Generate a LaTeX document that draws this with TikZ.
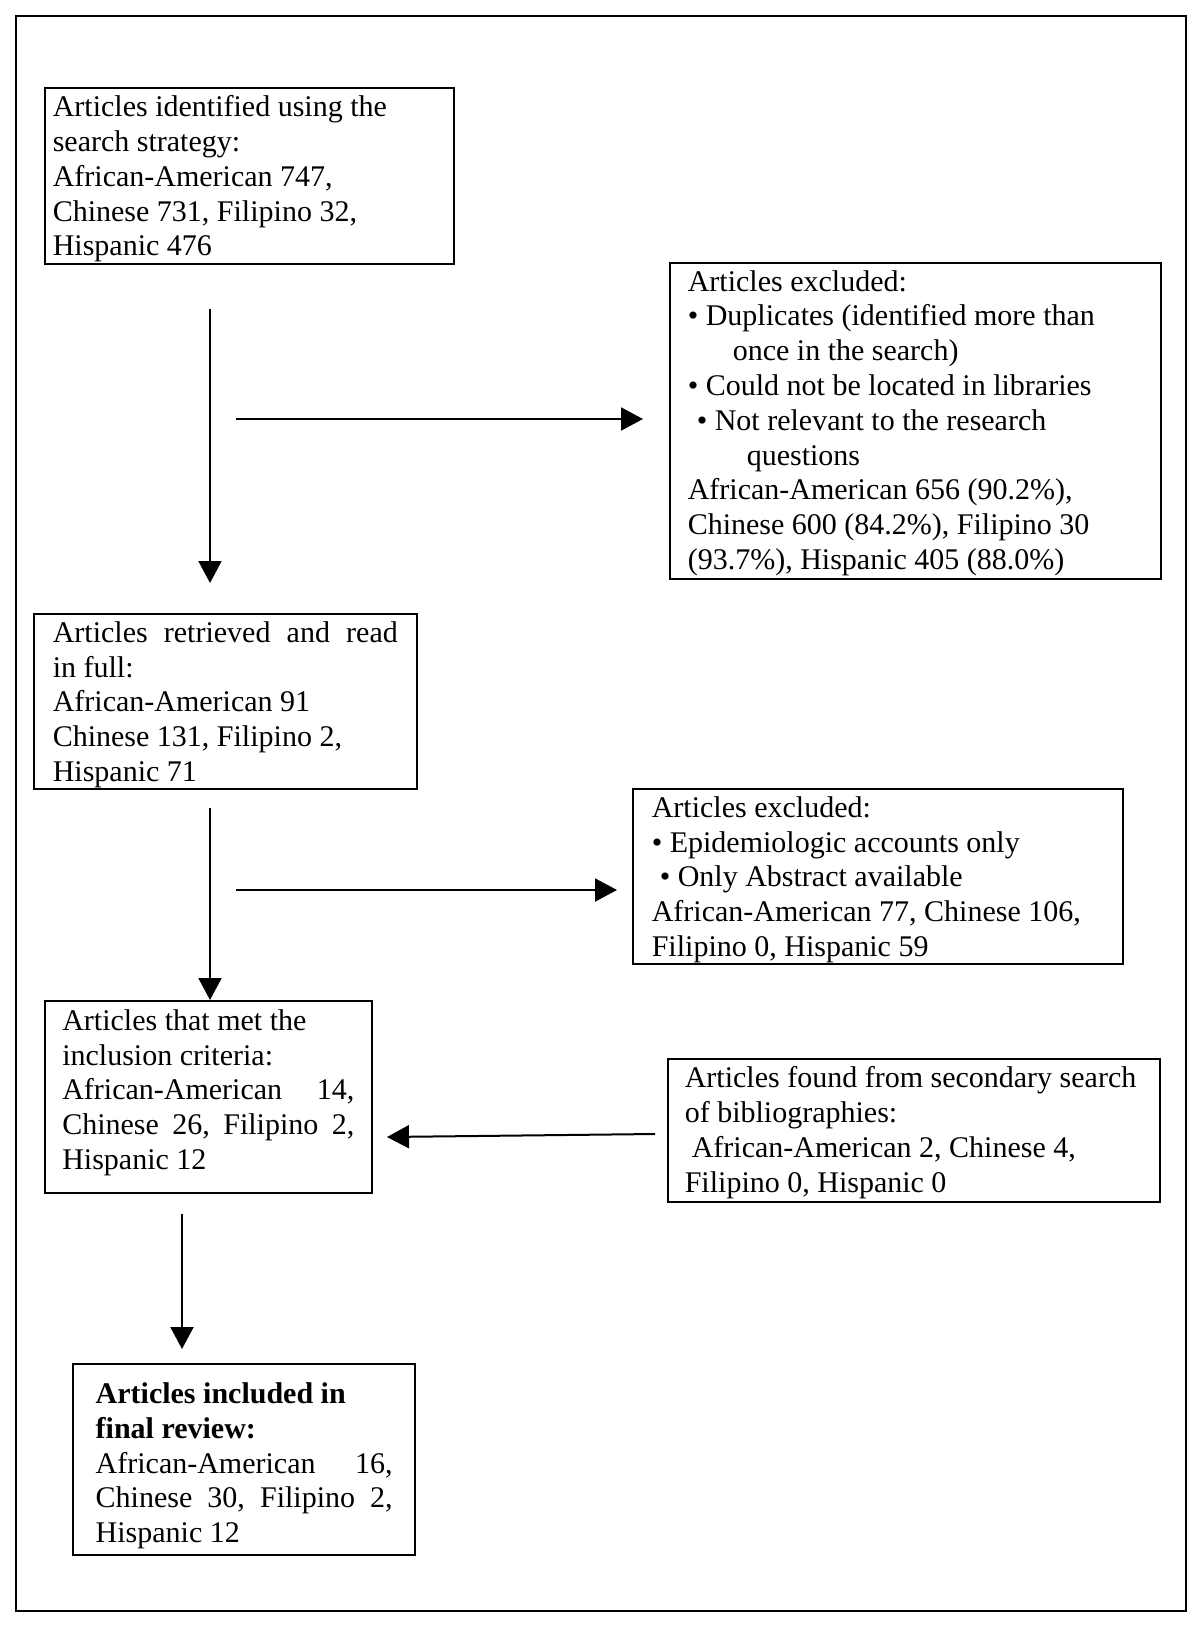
\documentclass[tikz,border=0pt]{standalone}
\usepackage{fontspec}
\setmainfont{Liberation Serif}
\usepackage{tikz}
\usetikzlibrary{arrows.meta}
\tikzstyle{box} = [draw, line width=0.8pt, anchor=north west, align=flush left, inner ysep=0pt, font={\fontsize{15pt}{17.4pt}\selectfont}]
\tikzstyle{finalbox} = [box, line width=1.2pt]
\tikzstyle{arrow} = [draw, line width=1pt, -{Triangle[length=11pt, width=11.5pt]}]
\tikzstyle{frame} = [draw, line width=1pt]
% first line strut, pushes the text a bit down in its box
\newcommand{\topgap}[1]{\rule{0pt}{#1}}

\begin{document}
\begin{tikzpicture}[x=0.5pt, y=-0.5pt]
				\useasboundingbox (0,0) rectangle (1200,1627);
				\path [frame] (16,16) rectangle (1186,1611);

				\node [box, text width=196.5pt, inner xsep=4pt, minimum height=88pt] (search) at (44,87) {\topgap{13.75pt}Articles identified using the\\search strategy:\\African-American 747,\\Chinese 731, Filipino 32,\\Hispanic 476};
				\node [box, text width=227.5pt, inner xsep=9pt, minimum height=158pt] (excl1) at (669,262) {\topgap{12.75pt}Articles excluded:\\\textbullet{} Duplicates (identified more than\\\hspace*{22.5pt}once in the search)\\\textbullet{} Could not be located in libraries\\\hspace*{4.5pt}\textbullet{} Not relevant to the research\\\hspace*{29.5pt}questions\\African-American 656 (90.2\%),\\Chinese 600 (84.2\%), Filipino 30\\(93.7\%), Hispanic 405 (88.0\%)};
				\node [box, text width=172.5pt, inner xsep=9.5pt, minimum height=87.5pt] (full) at (33,613) {\topgap{13.75pt}\makebox[172.5pt][s]{Articles\hfill retrieved\hfill and\hfill read}\\in full:\\African-American 91\\Chinese 131, Filipino 2,\\Hispanic 71};
				\node [box, text width=226pt, inner xsep=9.5pt, minimum height=87.5pt] (excl2) at (632,788) {\topgap{13.75pt}Articles excluded:\\\textbullet{} Epidemiologic accounts only\\\hspace*{4pt}\textbullet{} Only Abstract available\\African-American 77, Chinese 106,\\Filipino 0, Hispanic 59};
				\node [box, text width=146pt, inner xsep=8.75pt, minimum height=96pt] (incl) at (44,1000) {Articles that met the\\inclusion criteria:\\\makebox[146pt][s]{African-American\hfill 14,}\\\makebox[146pt][s]{Chinese\hfill 26,\hfill Filipino\hfill 2,}\\Hispanic 12\rule[-7.3pt]{0pt}{7.3pt}};
				\node [box, text width=229pt, inner xsep=8.5pt, minimum height=71.5pt] (second) at (667,1058) {\topgap{12.75pt}Articles found from secondary search\\of bibliographies:\\\hspace*{3.5pt}African-American 2, Chinese 4,\\Filipino 0, Hispanic 0};
				\node [finalbox, text width=148.5pt, inner xsep=11.25pt, minimum height=95.5pt] (final) at (72,1363) {\topgap{16.6pt}\textbf{Articles included in}\\\textbf{final review:}\\\makebox[148.5pt][s]{African-American\hfill 16,}\\\makebox[148.5pt][s]{Chinese\hfill 30,\hfill Filipino\hfill 2,}\\Hispanic 12};

				\coordinate (d1a) at (210,309);
				\coordinate (d1b) at (210,583);
				\coordinate (r1a) at (236,419);
				\coordinate (r1b) at (643,419);
				\coordinate (d2a) at (210,808);
				\coordinate (r2a) at (236,890);
				\coordinate (r2b) at (617,890);
				\coordinate (l1a) at (655,1134);
				\coordinate (l1b) at (387,1137);
				\coordinate (d3a) at (182,1214);
				\coordinate (d3b) at (182,1349);

				\path [arrow] (d1a) -- (d1b);
				\path [arrow] (r1a) -- (r1b);
				\path [arrow] (d2a) -- (incl.north -| d2a);
				\path [arrow] (r2a) -- (r2b);
				\path [arrow] (l1a) -- (l1b);
				\path [arrow] (d3a) -- (d3b);
			\end{tikzpicture}
\end{document}
